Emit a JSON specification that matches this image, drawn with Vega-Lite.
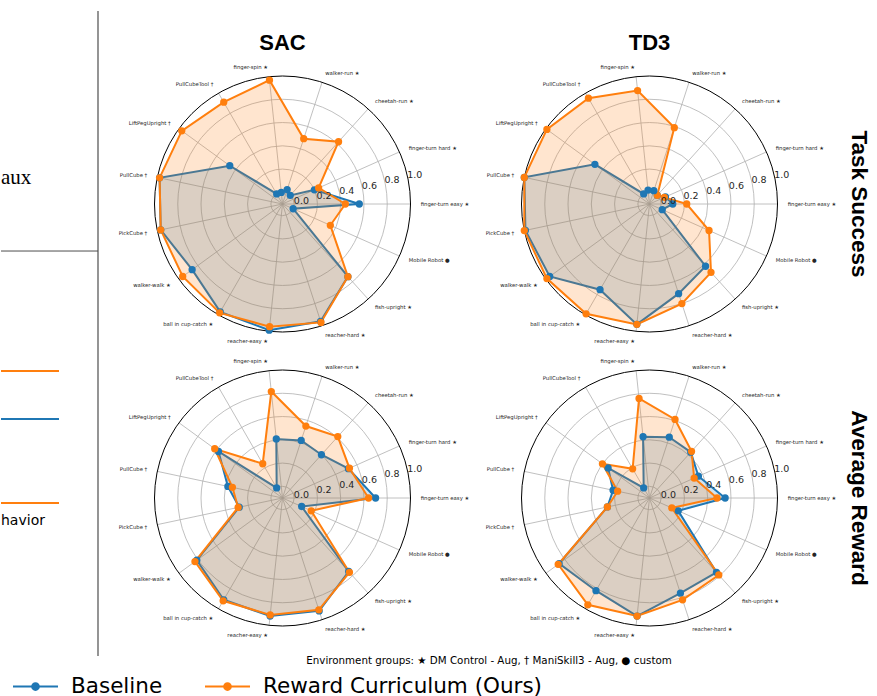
{
"$schema": "https://vega.github.io/schema/vega-lite/v6.json",
"padding": {"left": 0, "top": 10, "right": 0, "bottom": 0},
"background": "white",
"config": {"view": {"stroke": null}, "concat": {"spacing": 0}},
"datasets": {
"rings": [{"v": 0}, {"v": 0.2}, {"v": 0.4}, {"v": 0.6}, {"v": 0.8}, {"v": 1.0}],
"envs": [
{"k": 0, "label": "finger-turn easy ★"}, {"k": 1, "label": "finger-turn hard ★"}, {"k": 2, "label": "cheetah-run ★"},
{"k": 3, "label": "walker-run ★"}, {"k": 4, "label": "finger-spin ★"}, {"k": 5, "label": "PullCubeTool †"},
{"k": 6, "label": "LiftPegUpright †"}, {"k": 7, "label": "PullCube †"}, {"k": 8, "label": "PickCube †"},
{"k": 9, "label": "walker-walk ★"}, {"k": 10, "label": "ball in cup-catch ★"}, {"k": 11, "label": "reacher-easy ★"},
{"k": 12, "label": "reacher-hard ★"}, {"k": 13, "label": "fish-upright ★"}, {"k": 14, "label": "Mobile Robot ●"}
],
"scores": [
{"algo": "SAC", "metric": "Task Success", "k": 0, "Baseline": 0.56, "Reward Curriculum (Ours)": 0.44},
{"algo": "SAC", "metric": "Task Success", "k": 1, "Baseline": 0.20, "Reward Curriculum (Ours)": 0.24},
{"algo": "SAC", "metric": "Task Success", "k": 2, "Baseline": 0.00, "Reward Curriculum (Ours)": 0.62},
{"algo": "SAC", "metric": "Task Success", "k": 3, "Baseline": 0.03, "Reward Curriculum (Ours)": 0.49},
{"algo": "SAC", "metric": "Task Success", "k": 4, "Baseline": 0.00, "Reward Curriculum (Ours)": 0.97},
{"algo": "SAC", "metric": "Task Success", "k": 5, "Baseline": 0.00, "Reward Curriculum (Ours)": 0.91},
{"algo": "SAC", "metric": "Task Success", "k": 6, "Baseline": 0.46, "Reward Curriculum (Ours)": 0.97},
{"algo": "SAC", "metric": "Task Success", "k": 7, "Baseline": 0.98, "Reward Curriculum (Ours)": 0.98},
{"algo": "SAC", "metric": "Task Success", "k": 8, "Baseline": 0.97, "Reward Curriculum (Ours)": 0.97},
{"algo": "SAC", "metric": "Task Success", "k": 9, "Baseline": 0.86, "Reward Curriculum (Ours)": 0.96},
{"algo": "SAC", "metric": "Task Success", "k": 10, "Baseline": 0.97, "Reward Curriculum (Ours)": 0.98},
{"algo": "SAC", "metric": "Task Success", "k": 11, "Baseline": 0.99, "Reward Curriculum (Ours)": 0.96},
{"algo": "SAC", "metric": "Task Success", "k": 12, "Baseline": 0.96, "Reward Curriculum (Ours)": 0.97},
{"algo": "SAC", "metric": "Task Success", "k": 13, "Baseline": 0.74, "Reward Curriculum (Ours)": 0.74},
{"algo": "SAC", "metric": "Task Success", "k": 14, "Baseline": 0.00, "Reward Curriculum (Ours)": 0.35},
{"algo": "TD3", "metric": "Task Success", "k": 0, "Baseline": 0.10, "Reward Curriculum (Ours)": 0.22},
{"algo": "TD3", "metric": "Task Success", "k": 1, "Baseline": 0.05, "Reward Curriculum (Ours)": 0.04},
{"algo": "TD3", "metric": "Task Success", "k": 2, "Baseline": 0.00, "Reward Curriculum (Ours)": 0.00},
{"algo": "TD3", "metric": "Task Success", "k": 3, "Baseline": 0.02, "Reward Curriculum (Ours)": 0.59},
{"algo": "TD3", "metric": "Task Success", "k": 4, "Baseline": 0.02, "Reward Curriculum (Ours)": 0.88},
{"algo": "TD3", "metric": "Task Success", "k": 5, "Baseline": 0.00, "Reward Curriculum (Ours)": 0.95},
{"algo": "TD3", "metric": "Task Success", "k": 6, "Baseline": 0.48, "Reward Curriculum (Ours)": 0.99},
{"algo": "TD3", "metric": "Task Success", "k": 7, "Baseline": 1.00, "Reward Curriculum (Ours)": 1.00},
{"algo": "TD3", "metric": "Task Success", "k": 8, "Baseline": 0.99, "Reward Curriculum (Ours)": 1.00},
{"algo": "TD3", "metric": "Task Success", "k": 9, "Baseline": 0.96, "Reward Curriculum (Ours)": 0.99},
{"algo": "TD3", "metric": "Task Success", "k": 10, "Baseline": 0.75, "Reward Curriculum (Ours)": 0.99},
{"algo": "TD3", "metric": "Task Success", "k": 11, "Baseline": 0.94, "Reward Curriculum (Ours)": 0.94},
{"algo": "TD3", "metric": "Task Success", "k": 12, "Baseline": 0.71, "Reward Curriculum (Ours)": 0.80},
{"algo": "TD3", "metric": "Task Success", "k": 13, "Baseline": 0.62, "Reward Curriculum (Ours)": 0.69},
{"algo": "TD3", "metric": "Task Success", "k": 14, "Baseline": 0.02, "Reward Curriculum (Ours)": 0.46},
{"algo": "SAC", "metric": "Average Reward", "k": 0, "Baseline": 0.70, "Reward Curriculum (Ours)": 0.64},
{"algo": "SAC", "metric": "Average Reward", "k": 1, "Baseline": 0.52, "Reward Curriculum (Ours)": 0.53},
{"algo": "SAC", "metric": "Average Reward", "k": 2, "Baseline": 0.40, "Reward Curriculum (Ours)": 0.61},
{"algo": "SAC", "metric": "Average Reward", "k": 3, "Baseline": 0.42, "Reward Curriculum (Ours)": 0.55},
{"algo": "SAC", "metric": "Average Reward", "k": 4, "Baseline": 0.41, "Reward Curriculum (Ours)": 0.82},
{"algo": "SAC", "metric": "Average Reward", "k": 5, "Baseline": 0.00, "Reward Curriculum (Ours)": 0.24},
{"algo": "SAC", "metric": "Average Reward", "k": 6, "Baseline": 0.58, "Reward Curriculum (Ours)": 0.62},
{"algo": "SAC", "metric": "Average Reward", "k": 7, "Baseline": 0.38, "Reward Curriculum (Ours)": 0.34},
{"algo": "SAC", "metric": "Average Reward", "k": 8, "Baseline": 0.28, "Reward Curriculum (Ours)": 0.29},
{"algo": "SAC", "metric": "Average Reward", "k": 9, "Baseline": 0.81, "Reward Curriculum (Ours)": 0.83},
{"algo": "SAC", "metric": "Average Reward", "k": 10, "Baseline": 0.91, "Reward Curriculum (Ours)": 0.92},
{"algo": "SAC", "metric": "Average Reward", "k": 11, "Baseline": 0.92, "Reward Curriculum (Ours)": 0.91},
{"algo": "SAC", "metric": "Average Reward", "k": 12, "Baseline": 0.92, "Reward Curriculum (Ours)": 0.91},
{"algo": "SAC", "metric": "Average Reward", "k": 13, "Baseline": 0.75, "Reward Curriculum (Ours)": 0.76},
{"algo": "SAC", "metric": "Average Reward", "k": 14, "Baseline": 0.08, "Reward Curriculum (Ours)": 0.17},
{"algo": "TD3", "metric": "Average Reward", "k": 0, "Baseline": 0.55, "Reward Curriculum (Ours)": 0.48},
{"algo": "TD3", "metric": "Average Reward", "k": 1, "Baseline": 0.36, "Reward Curriculum (Ours)": 0.32},
{"algo": "TD3", "metric": "Average Reward", "k": 2, "Baseline": 0.43, "Reward Curriculum (Ours)": 0.44},
{"algo": "TD3", "metric": "Average Reward", "k": 3, "Baseline": 0.45, "Reward Curriculum (Ours)": 0.61},
{"algo": "TD3", "metric": "Average Reward", "k": 4, "Baseline": 0.43, "Reward Curriculum (Ours)": 0.76},
{"algo": "TD3", "metric": "Average Reward", "k": 5, "Baseline": 0.00, "Reward Curriculum (Ours)": 0.19},
{"algo": "TD3", "metric": "Average Reward", "k": 6, "Baseline": 0.34, "Reward Curriculum (Ours)": 0.40},
{"algo": "TD3", "metric": "Average Reward", "k": 7, "Baseline": 0.22, "Reward Curriculum (Ours)": 0.18},
{"algo": "TD3", "metric": "Average Reward", "k": 8, "Baseline": 0.27, "Reward Curriculum (Ours)": 0.27},
{"algo": "TD3", "metric": "Average Reward", "k": 9, "Baseline": 0.86, "Reward Curriculum (Ours)": 0.87},
{"algo": "TD3", "metric": "Average Reward", "k": 10, "Baseline": 0.82, "Reward Curriculum (Ours)": 0.96},
{"algo": "TD3", "metric": "Average Reward", "k": 11, "Baseline": 0.92, "Reward Curriculum (Ours)": 0.92},
{"algo": "TD3", "metric": "Average Reward", "k": 12, "Baseline": 0.76, "Reward Curriculum (Ours)": 0.82},
{"algo": "TD3", "metric": "Average Reward", "k": 13, "Baseline": 0.76, "Reward Curriculum (Ours)": 0.79},
{"algo": "TD3", "metric": "Average Reward", "k": 14, "Baseline": 0.17, "Reward Curriculum (Ours)": 0.11}
]
},
"resolve": {"scale": {"radius": "independent", "fill": "shared", "stroke": "shared"}, "legend": {"fill": "shared", "stroke": "shared"}},
"spacing": 0,
"hconcat": [
{
"width": 97, "height": 666,
"data": {"values": [{"x0": 0, "x1": 1}]},
"layer": [
{"mark": {"type": "rule", "color": "#4d4d4d", "strokeWidth": 1.2},
 "encoding": {"x": {"datum": 1, "type": "quantitative", "scale": {"domain": [0, 1], "nice": false, "zero": false}, "axis": null},
  "y": {"datum": 0, "type": "quantitative", "scale": {"domain": [0, 1], "reverse": true, "nice": false, "zero": false}, "axis": null},
  "y2": {"datum": 0.9685}}},
{"mark": {"type": "rule", "color": "#4d4d4d", "strokeWidth": 1},
 "encoding": {"x": {"datum": 0, "type": "quantitative", "axis": null}, "x2": {"datum": 1}, "y": {"datum": 0.3604, "type": "quantitative", "axis": null}}},
{"mark": {"type": "rule", "color": "#ff7f0e", "strokeWidth": 2},
 "encoding": {"x": {"datum": 0, "type": "quantitative", "axis": null}, "x2": {"datum": 0.598}, "y": {"datum": 0.5405, "type": "quantitative", "axis": null}}},
{"mark": {"type": "rule", "color": "#1f77b4", "strokeWidth": 2},
 "encoding": {"x": {"datum": 0, "type": "quantitative", "axis": null}, "x2": {"datum": 0.598}, "y": {"datum": 0.6126, "type": "quantitative", "axis": null}}},
{"mark": {"type": "rule", "color": "#ff7f0e", "strokeWidth": 2},
 "encoding": {"x": {"datum": 0, "type": "quantitative", "axis": null}, "x2": {"datum": 0.598}, "y": {"datum": 0.7387, "type": "quantitative", "axis": null}}},
{"mark": {"type": "text", "align": "left", "baseline": "middle", "font": "Liberation Serif", "fontSize": 21, "color": "#000"},
 "encoding": {"x": {"datum": 0, "type": "quantitative", "axis": null}, "y": {"datum": 0.2508, "type": "quantitative", "axis": null}, "text": {"value": "aux"}}},
{"mark": {"type": "text", "align": "left", "baseline": "middle", "font": "DejaVu Sans", "fontSize": 14, "color": "#000"},
 "encoding": {"x": {"datum": 0, "type": "quantitative", "axis": null}, "y": {"datum": 0.7658, "type": "quantitative", "axis": null}, "text": {"value": "havior"}}}
]
},
{
"spacing": 0,
"resolve": {"scale": {"radius": "independent", "fill": "shared", "stroke": "shared"}, "legend": {"fill": "shared", "stroke": "shared"}},
"vconcat": [
{"spacing": 0, "bounds": "flush",
 "hconcat": [
  {"width": 367, "height": 46, "data": {"values": [{"t": "SAC"}]},
   "mark": {"type": "text", "font": "Liberation Sans", "fontWeight": "bold", "fontSize": 22, "dy": 9, "color": "#000"},
   "encoding": {"text": {"field": "t", "type": "nominal"}}},
  {"width": 367, "height": 46, "data": {"values": [{"t": "TD3"}]},
   "mark": {"type": "text", "font": "Liberation Sans", "fontWeight": "bold", "fontSize": 22, "dy": 9, "color": "#000"},
   "encoding": {"text": {"field": "t", "type": "nominal"}}}
 ]},
{"spacing": 0, "bounds": "flush",
 "resolve": {"scale": {"radius": "independent", "fill": "shared", "stroke": "shared"}, "legend": {"fill": "shared", "stroke": "shared"}},
 "hconcat": [
 {"width": 367, "height": 294,
  "layer": [
   {"data": {"name": "rings"}, "transform": [{"filter": "datum.v < 1"}, {"calculate": "(datum.v + 0.1) / 1.1", "as": "u"}],
    "mark": {"type": "arc", "filled": false, "stroke": "#b0b0b0", "strokeWidth": 0.8, "theta": 0, "theta2": 6.2832},
    "encoding": {"radius": {"field": "u", "type": "quantitative", "stack": null, "scale": {"type": "linear", "domain": [0, 1], "range": [0, 128], "zero": true}}}},
   {"data": {"name": "envs"}, "transform": [{"calculate": "datum.k * 2 * PI / 15", "as": "a"}, {"calculate": "0", "as": "o"}, {"calculate": "cos(datum.a)", "as": "ex"}, {"calculate": "sin(datum.a)", "as": "ey"}],
    "mark": {"type": "rule", "stroke": "#b0b0b0", "strokeWidth": 0.8},
    "encoding": {"x": {"field": "o", "type": "quantitative", "scale": {"domain": [-1.4336, 1.4336], "nice": false, "zero": false}, "axis": null},
     "y": {"field": "o", "type": "quantitative", "scale": {"domain": [-1.1484, 1.1484], "nice": false, "zero": false}, "axis": null},
     "x2": {"field": "ex"}, "y2": {"field": "ey"}}},
   {"data": {"name": "rings"}, "transform": [{"filter": "datum.v == 1"}, {"calculate": "(datum.v + 0.1) / 1.1", "as": "u"}],
    "mark": {"type": "arc", "filled": false, "stroke": "#000", "strokeWidth": 1, "theta": 0, "theta2": 6.2832},
    "encoding": {"radius": {"field": "u", "type": "quantitative", "stack": null, "scale": {"type": "linear", "domain": [0, 1], "range": [0, 128], "zero": true}}}},
   {"data": {"name": "scores"}, "transform": [{"filter": "datum.algo == 'SAC' && datum.metric == 'Task Success'"}, {"fold": ["Baseline", "Reward Curriculum (Ours)"], "as": ["method", "value"]}, {"filter": "datum.method == 'Baseline'"}, {"calculate": "(datum.value + 0.1) / 1.1 * cos(datum.k * 2 * PI / 15)", "as": "px"}, {"calculate": "(datum.value + 0.1) / 1.1 * sin(datum.k * 2 * PI / 15)", "as": "py"}],
    "mark": {"type": "line", "interpolate": "linear-closed", "stroke": "#1f77b4", "fill": "#1f77b4", "fillOpacity": 0.2, "strokeWidth": 2},
    "encoding": {"x": {"field": "px", "type": "quantitative", "axis": null}, "y": {"field": "py", "type": "quantitative", "axis": null}, "order": {"field": "k", "type": "quantitative"}}},
   {"data": {"name": "scores"}, "transform": [{"filter": "datum.algo == 'SAC' && datum.metric == 'Task Success'"}, {"fold": ["Baseline", "Reward Curriculum (Ours)"], "as": ["method", "value"]}, {"filter": "datum.method != 'Baseline'"}, {"calculate": "(datum.value + 0.1) / 1.1 * cos(datum.k * 2 * PI / 15)", "as": "px"}, {"calculate": "(datum.value + 0.1) / 1.1 * sin(datum.k * 2 * PI / 15)", "as": "py"}],
    "mark": {"type": "line", "interpolate": "linear-closed", "stroke": "#ff7f0e", "fill": "#ff7f0e", "fillOpacity": 0.2, "strokeWidth": 2},
    "encoding": {"x": {"field": "px", "type": "quantitative", "axis": null}, "y": {"field": "py", "type": "quantitative", "axis": null}, "order": {"field": "k", "type": "quantitative"}}},
   {"data": {"name": "scores"}, "transform": [{"filter": "datum.algo == 'SAC' && datum.metric == 'Task Success'"}, {"fold": ["Baseline", "Reward Curriculum (Ours)"], "as": ["method", "value"]}, {"calculate": "(datum.value + 0.1) / 1.1 * cos(datum.k * 2 * PI / 15)", "as": "px"}, {"calculate": "(datum.value + 0.1) / 1.1 * sin(datum.k * 2 * PI / 15)", "as": "py"}],
    "mark": {"type": "point", "filled": true, "size": 28, "strokeWidth": 2, "opacity": 1},
    "encoding": {"x": {"field": "px", "type": "quantitative", "axis": null}, "y": {"field": "py", "type": "quantitative", "axis": null},
     "fill": {"field": "method", "type": "nominal", "scale": {"domain": ["Baseline", "Reward Curriculum (Ours)"], "range": ["#1f77b4", "#ff7f0e"]},
      "legend": {"orient": "none", "legendX": 11, "legendY": 652, "direction": "horizontal", "title": null, "symbolType": "M-1,0H1M0.15,0A0.15,0.15,0,1,1,-0.15,0A0.15,0.15,0,1,1,0.15,0Z", "symbolSize": 2025, "symbolStrokeWidth": 2, "labelFontSize": 21.5, "labelFont": "DejaVu Sans", "labelColor": "#000", "labelOffset": 12, "columnPadding": 38, "padding": 0, "labelLimit": 400}},
     "stroke": {"field": "method", "type": "nominal", "scale": {"domain": ["Baseline", "Reward Curriculum (Ours)"], "range": ["#1f77b4", "#ff7f0e"]},
      "legend": {"orient": "none", "legendX": 11, "legendY": 652, "direction": "horizontal", "title": null, "symbolType": "M-1,0H1M0.15,0A0.15,0.15,0,1,1,-0.15,0A0.15,0.15,0,1,1,0.15,0Z", "symbolSize": 2025, "symbolStrokeWidth": 2, "labelFontSize": 21.5, "labelFont": "DejaVu Sans", "labelColor": "#000", "labelOffset": 12, "columnPadding": 38, "padding": 0, "labelLimit": 400}}}},
   {"data": {"name": "rings"}, "transform": [{"calculate": "(datum.v + 0.1) / 1.1 * cos(13 * PI / 180)", "as": "lx"}, {"calculate": "(datum.v + 0.1) / 1.1 * sin(13 * PI / 180)", "as": "ly"}],
    "mark": {"type": "text", "align": "left", "baseline": "middle", "font": "DejaVu Sans", "fontSize": 9.5, "color": "#262626"},
    "encoding": {"x": {"field": "lx", "type": "quantitative", "axis": null}, "y": {"field": "ly", "type": "quantitative", "axis": null}, "text": {"field": "v", "type": "quantitative", "format": ".1f"}}},
   {"data": {"name": "envs"}, "transform": [{"calculate": "datum.k * 2 * PI / 15", "as": "a"}, {"filter": "cos(datum.a) > 0"}, {"calculate": "1.08 * cos(datum.a)", "as": "lx"}, {"calculate": "1.08 * sin(datum.a)", "as": "ly"}],
    "mark": {"type": "text", "align": "left", "baseline": "middle", "font": "DejaVu Sans", "fontSize": 5.3, "color": "#262626"},
    "encoding": {"x": {"field": "lx", "type": "quantitative", "axis": null}, "y": {"field": "ly", "type": "quantitative", "axis": null}, "text": {"field": "label", "type": "nominal"}}},
   {"data": {"name": "envs"}, "transform": [{"calculate": "datum.k * 2 * PI / 15", "as": "a"}, {"filter": "cos(datum.a) <= 0"}, {"calculate": "1.08 * cos(datum.a)", "as": "lx"}, {"calculate": "1.08 * sin(datum.a)", "as": "ly"}],
    "mark": {"type": "text", "align": "right", "baseline": "middle", "font": "DejaVu Sans", "fontSize": 5.3, "color": "#262626"},
    "encoding": {"x": {"field": "lx", "type": "quantitative", "axis": null}, "y": {"field": "ly", "type": "quantitative", "axis": null}, "text": {"field": "label", "type": "nominal"}}}
  ]},
 {"width": 367, "height": 294,
  "layer": [
   {"data": {"name": "rings"}, "transform": [{"filter": "datum.v < 1"}, {"calculate": "(datum.v + 0.1) / 1.1", "as": "u"}],
    "mark": {"type": "arc", "filled": false, "stroke": "#b0b0b0", "strokeWidth": 0.8, "theta": 0, "theta2": 6.2832},
    "encoding": {"radius": {"field": "u", "type": "quantitative", "stack": null, "scale": {"type": "linear", "domain": [0, 1], "range": [0, 128], "zero": true}}}},
   {"data": {"name": "envs"}, "transform": [{"calculate": "datum.k * 2 * PI / 15", "as": "a"}, {"calculate": "0", "as": "o"}, {"calculate": "cos(datum.a)", "as": "ex"}, {"calculate": "sin(datum.a)", "as": "ey"}],
    "mark": {"type": "rule", "stroke": "#b0b0b0", "strokeWidth": 0.8},
    "encoding": {"x": {"field": "o", "type": "quantitative", "scale": {"domain": [-1.4336, 1.4336], "nice": false, "zero": false}, "axis": null},
     "y": {"field": "o", "type": "quantitative", "scale": {"domain": [-1.1484, 1.1484], "nice": false, "zero": false}, "axis": null},
     "x2": {"field": "ex"}, "y2": {"field": "ey"}}},
   {"data": {"name": "rings"}, "transform": [{"filter": "datum.v == 1"}, {"calculate": "(datum.v + 0.1) / 1.1", "as": "u"}],
    "mark": {"type": "arc", "filled": false, "stroke": "#000", "strokeWidth": 1, "theta": 0, "theta2": 6.2832},
    "encoding": {"radius": {"field": "u", "type": "quantitative", "stack": null, "scale": {"type": "linear", "domain": [0, 1], "range": [0, 128], "zero": true}}}},
   {"data": {"name": "scores"}, "transform": [{"filter": "datum.algo == 'TD3' && datum.metric == 'Task Success'"}, {"fold": ["Baseline", "Reward Curriculum (Ours)"], "as": ["method", "value"]}, {"filter": "datum.method == 'Baseline'"}, {"calculate": "(datum.value + 0.1) / 1.1 * cos(datum.k * 2 * PI / 15)", "as": "px"}, {"calculate": "(datum.value + 0.1) / 1.1 * sin(datum.k * 2 * PI / 15)", "as": "py"}],
    "mark": {"type": "line", "interpolate": "linear-closed", "stroke": "#1f77b4", "fill": "#1f77b4", "fillOpacity": 0.2, "strokeWidth": 2},
    "encoding": {"x": {"field": "px", "type": "quantitative", "axis": null}, "y": {"field": "py", "type": "quantitative", "axis": null}, "order": {"field": "k", "type": "quantitative"}}},
   {"data": {"name": "scores"}, "transform": [{"filter": "datum.algo == 'TD3' && datum.metric == 'Task Success'"}, {"fold": ["Baseline", "Reward Curriculum (Ours)"], "as": ["method", "value"]}, {"filter": "datum.method != 'Baseline'"}, {"calculate": "(datum.value + 0.1) / 1.1 * cos(datum.k * 2 * PI / 15)", "as": "px"}, {"calculate": "(datum.value + 0.1) / 1.1 * sin(datum.k * 2 * PI / 15)", "as": "py"}],
    "mark": {"type": "line", "interpolate": "linear-closed", "stroke": "#ff7f0e", "fill": "#ff7f0e", "fillOpacity": 0.2, "strokeWidth": 2},
    "encoding": {"x": {"field": "px", "type": "quantitative", "axis": null}, "y": {"field": "py", "type": "quantitative", "axis": null}, "order": {"field": "k", "type": "quantitative"}}},
   {"data": {"name": "scores"}, "transform": [{"filter": "datum.algo == 'TD3' && datum.metric == 'Task Success'"}, {"fold": ["Baseline", "Reward Curriculum (Ours)"], "as": ["method", "value"]}, {"calculate": "(datum.value + 0.1) / 1.1 * cos(datum.k * 2 * PI / 15)", "as": "px"}, {"calculate": "(datum.value + 0.1) / 1.1 * sin(datum.k * 2 * PI / 15)", "as": "py"}],
    "mark": {"type": "point", "filled": true, "size": 28, "strokeWidth": 2, "opacity": 1},
    "encoding": {"x": {"field": "px", "type": "quantitative", "axis": null}, "y": {"field": "py", "type": "quantitative", "axis": null},
     "fill": {"field": "method", "type": "nominal", "scale": {"domain": ["Baseline", "Reward Curriculum (Ours)"], "range": ["#1f77b4", "#ff7f0e"]}},
     "stroke": {"field": "method", "type": "nominal", "scale": {"domain": ["Baseline", "Reward Curriculum (Ours)"], "range": ["#1f77b4", "#ff7f0e"]}}}},
   {"data": {"name": "rings"}, "transform": [{"calculate": "(datum.v + 0.1) / 1.1 * cos(13 * PI / 180)", "as": "lx"}, {"calculate": "(datum.v + 0.1) / 1.1 * sin(13 * PI / 180)", "as": "ly"}],
    "mark": {"type": "text", "align": "left", "baseline": "middle", "font": "DejaVu Sans", "fontSize": 9.5, "color": "#262626"},
    "encoding": {"x": {"field": "lx", "type": "quantitative", "axis": null}, "y": {"field": "ly", "type": "quantitative", "axis": null}, "text": {"field": "v", "type": "quantitative", "format": ".1f"}}},
   {"data": {"name": "envs"}, "transform": [{"calculate": "datum.k * 2 * PI / 15", "as": "a"}, {"filter": "cos(datum.a) > 0"}, {"calculate": "1.08 * cos(datum.a)", "as": "lx"}, {"calculate": "1.08 * sin(datum.a)", "as": "ly"}],
    "mark": {"type": "text", "align": "left", "baseline": "middle", "font": "DejaVu Sans", "fontSize": 5.3, "color": "#262626"},
    "encoding": {"x": {"field": "lx", "type": "quantitative", "axis": null}, "y": {"field": "ly", "type": "quantitative", "axis": null}, "text": {"field": "label", "type": "nominal"}}},
   {"data": {"name": "envs"}, "transform": [{"calculate": "datum.k * 2 * PI / 15", "as": "a"}, {"filter": "cos(datum.a) <= 0"}, {"calculate": "1.08 * cos(datum.a)", "as": "lx"}, {"calculate": "1.08 * sin(datum.a)", "as": "ly"}],
    "mark": {"type": "text", "align": "right", "baseline": "middle", "font": "DejaVu Sans", "fontSize": 5.3, "color": "#262626"},
    "encoding": {"x": {"field": "lx", "type": "quantitative", "axis": null}, "y": {"field": "ly", "type": "quantitative", "axis": null}, "text": {"field": "label", "type": "nominal"}}}
  ]},
 {"width": 46, "height": 294, "data": {"values": [{"t": "Task Success"}]},
  "mark": {"type": "text", "angle": 90, "font": "Liberation Sans", "fontWeight": "bold", "fontSize": 22.5, "dy": -3, "color": "#000"},
  "encoding": {"text": {"field": "t", "type": "nominal"}}}
 ]},
{"spacing": 0, "bounds": "flush",
 "resolve": {"scale": {"radius": "independent", "fill": "shared", "stroke": "shared"}, "legend": {"fill": "shared", "stroke": "shared"}},
 "hconcat": [
 {"width": 367, "height": 294,
  "layer": [
   {"data": {"name": "rings"}, "transform": [{"filter": "datum.v < 1"}, {"calculate": "(datum.v + 0.1) / 1.1", "as": "u"}],
    "mark": {"type": "arc", "filled": false, "stroke": "#b0b0b0", "strokeWidth": 0.8, "theta": 0, "theta2": 6.2832},
    "encoding": {"radius": {"field": "u", "type": "quantitative", "stack": null, "scale": {"type": "linear", "domain": [0, 1], "range": [0, 128], "zero": true}}}},
   {"data": {"name": "envs"}, "transform": [{"calculate": "datum.k * 2 * PI / 15", "as": "a"}, {"calculate": "0", "as": "o"}, {"calculate": "cos(datum.a)", "as": "ex"}, {"calculate": "sin(datum.a)", "as": "ey"}],
    "mark": {"type": "rule", "stroke": "#b0b0b0", "strokeWidth": 0.8},
    "encoding": {"x": {"field": "o", "type": "quantitative", "scale": {"domain": [-1.4336, 1.4336], "nice": false, "zero": false}, "axis": null},
     "y": {"field": "o", "type": "quantitative", "scale": {"domain": [-1.1484, 1.1484], "nice": false, "zero": false}, "axis": null},
     "x2": {"field": "ex"}, "y2": {"field": "ey"}}},
   {"data": {"name": "rings"}, "transform": [{"filter": "datum.v == 1"}, {"calculate": "(datum.v + 0.1) / 1.1", "as": "u"}],
    "mark": {"type": "arc", "filled": false, "stroke": "#000", "strokeWidth": 1, "theta": 0, "theta2": 6.2832},
    "encoding": {"radius": {"field": "u", "type": "quantitative", "stack": null, "scale": {"type": "linear", "domain": [0, 1], "range": [0, 128], "zero": true}}}},
   {"data": {"name": "scores"}, "transform": [{"filter": "datum.algo == 'SAC' && datum.metric == 'Average Reward'"}, {"fold": ["Baseline", "Reward Curriculum (Ours)"], "as": ["method", "value"]}, {"filter": "datum.method == 'Baseline'"}, {"calculate": "(datum.value + 0.1) / 1.1 * cos(datum.k * 2 * PI / 15)", "as": "px"}, {"calculate": "(datum.value + 0.1) / 1.1 * sin(datum.k * 2 * PI / 15)", "as": "py"}],
    "mark": {"type": "line", "interpolate": "linear-closed", "stroke": "#1f77b4", "fill": "#1f77b4", "fillOpacity": 0.2, "strokeWidth": 2},
    "encoding": {"x": {"field": "px", "type": "quantitative", "axis": null}, "y": {"field": "py", "type": "quantitative", "axis": null}, "order": {"field": "k", "type": "quantitative"}}},
   {"data": {"name": "scores"}, "transform": [{"filter": "datum.algo == 'SAC' && datum.metric == 'Average Reward'"}, {"fold": ["Baseline", "Reward Curriculum (Ours)"], "as": ["method", "value"]}, {"filter": "datum.method != 'Baseline'"}, {"calculate": "(datum.value + 0.1) / 1.1 * cos(datum.k * 2 * PI / 15)", "as": "px"}, {"calculate": "(datum.value + 0.1) / 1.1 * sin(datum.k * 2 * PI / 15)", "as": "py"}],
    "mark": {"type": "line", "interpolate": "linear-closed", "stroke": "#ff7f0e", "fill": "#ff7f0e", "fillOpacity": 0.2, "strokeWidth": 2},
    "encoding": {"x": {"field": "px", "type": "quantitative", "axis": null}, "y": {"field": "py", "type": "quantitative", "axis": null}, "order": {"field": "k", "type": "quantitative"}}},
   {"data": {"name": "scores"}, "transform": [{"filter": "datum.algo == 'SAC' && datum.metric == 'Average Reward'"}, {"fold": ["Baseline", "Reward Curriculum (Ours)"], "as": ["method", "value"]}, {"calculate": "(datum.value + 0.1) / 1.1 * cos(datum.k * 2 * PI / 15)", "as": "px"}, {"calculate": "(datum.value + 0.1) / 1.1 * sin(datum.k * 2 * PI / 15)", "as": "py"}],
    "mark": {"type": "point", "filled": true, "size": 28, "strokeWidth": 2, "opacity": 1},
    "encoding": {"x": {"field": "px", "type": "quantitative", "axis": null}, "y": {"field": "py", "type": "quantitative", "axis": null},
     "fill": {"field": "method", "type": "nominal", "scale": {"domain": ["Baseline", "Reward Curriculum (Ours)"], "range": ["#1f77b4", "#ff7f0e"]}},
     "stroke": {"field": "method", "type": "nominal", "scale": {"domain": ["Baseline", "Reward Curriculum (Ours)"], "range": ["#1f77b4", "#ff7f0e"]}}}},
   {"data": {"name": "rings"}, "transform": [{"calculate": "(datum.v + 0.1) / 1.1 * cos(13 * PI / 180)", "as": "lx"}, {"calculate": "(datum.v + 0.1) / 1.1 * sin(13 * PI / 180)", "as": "ly"}],
    "mark": {"type": "text", "align": "left", "baseline": "middle", "font": "DejaVu Sans", "fontSize": 9.5, "color": "#262626"},
    "encoding": {"x": {"field": "lx", "type": "quantitative", "axis": null}, "y": {"field": "ly", "type": "quantitative", "axis": null}, "text": {"field": "v", "type": "quantitative", "format": ".1f"}}},
   {"data": {"name": "envs"}, "transform": [{"calculate": "datum.k * 2 * PI / 15", "as": "a"}, {"filter": "cos(datum.a) > 0"}, {"calculate": "1.08 * cos(datum.a)", "as": "lx"}, {"calculate": "1.08 * sin(datum.a)", "as": "ly"}],
    "mark": {"type": "text", "align": "left", "baseline": "middle", "font": "DejaVu Sans", "fontSize": 5.3, "color": "#262626"},
    "encoding": {"x": {"field": "lx", "type": "quantitative", "axis": null}, "y": {"field": "ly", "type": "quantitative", "axis": null}, "text": {"field": "label", "type": "nominal"}}},
   {"data": {"name": "envs"}, "transform": [{"calculate": "datum.k * 2 * PI / 15", "as": "a"}, {"filter": "cos(datum.a) <= 0"}, {"calculate": "1.08 * cos(datum.a)", "as": "lx"}, {"calculate": "1.08 * sin(datum.a)", "as": "ly"}],
    "mark": {"type": "text", "align": "right", "baseline": "middle", "font": "DejaVu Sans", "fontSize": 5.3, "color": "#262626"},
    "encoding": {"x": {"field": "lx", "type": "quantitative", "axis": null}, "y": {"field": "ly", "type": "quantitative", "axis": null}, "text": {"field": "label", "type": "nominal"}}}
  ]},
 {"width": 367, "height": 294,
  "layer": [
   {"data": {"name": "rings"}, "transform": [{"filter": "datum.v < 1"}, {"calculate": "(datum.v + 0.1) / 1.1", "as": "u"}],
    "mark": {"type": "arc", "filled": false, "stroke": "#b0b0b0", "strokeWidth": 0.8, "theta": 0, "theta2": 6.2832},
    "encoding": {"radius": {"field": "u", "type": "quantitative", "stack": null, "scale": {"type": "linear", "domain": [0, 1], "range": [0, 128], "zero": true}}}},
   {"data": {"name": "envs"}, "transform": [{"calculate": "datum.k * 2 * PI / 15", "as": "a"}, {"calculate": "0", "as": "o"}, {"calculate": "cos(datum.a)", "as": "ex"}, {"calculate": "sin(datum.a)", "as": "ey"}],
    "mark": {"type": "rule", "stroke": "#b0b0b0", "strokeWidth": 0.8},
    "encoding": {"x": {"field": "o", "type": "quantitative", "scale": {"domain": [-1.4336, 1.4336], "nice": false, "zero": false}, "axis": null},
     "y": {"field": "o", "type": "quantitative", "scale": {"domain": [-1.1484, 1.1484], "nice": false, "zero": false}, "axis": null},
     "x2": {"field": "ex"}, "y2": {"field": "ey"}}},
   {"data": {"name": "rings"}, "transform": [{"filter": "datum.v == 1"}, {"calculate": "(datum.v + 0.1) / 1.1", "as": "u"}],
    "mark": {"type": "arc", "filled": false, "stroke": "#000", "strokeWidth": 1, "theta": 0, "theta2": 6.2832},
    "encoding": {"radius": {"field": "u", "type": "quantitative", "stack": null, "scale": {"type": "linear", "domain": [0, 1], "range": [0, 128], "zero": true}}}},
   {"data": {"name": "scores"}, "transform": [{"filter": "datum.algo == 'TD3' && datum.metric == 'Average Reward'"}, {"fold": ["Baseline", "Reward Curriculum (Ours)"], "as": ["method", "value"]}, {"filter": "datum.method == 'Baseline'"}, {"calculate": "(datum.value + 0.1) / 1.1 * cos(datum.k * 2 * PI / 15)", "as": "px"}, {"calculate": "(datum.value + 0.1) / 1.1 * sin(datum.k * 2 * PI / 15)", "as": "py"}],
    "mark": {"type": "line", "interpolate": "linear-closed", "stroke": "#1f77b4", "fill": "#1f77b4", "fillOpacity": 0.2, "strokeWidth": 2},
    "encoding": {"x": {"field": "px", "type": "quantitative", "axis": null}, "y": {"field": "py", "type": "quantitative", "axis": null}, "order": {"field": "k", "type": "quantitative"}}},
   {"data": {"name": "scores"}, "transform": [{"filter": "datum.algo == 'TD3' && datum.metric == 'Average Reward'"}, {"fold": ["Baseline", "Reward Curriculum (Ours)"], "as": ["method", "value"]}, {"filter": "datum.method != 'Baseline'"}, {"calculate": "(datum.value + 0.1) / 1.1 * cos(datum.k * 2 * PI / 15)", "as": "px"}, {"calculate": "(datum.value + 0.1) / 1.1 * sin(datum.k * 2 * PI / 15)", "as": "py"}],
    "mark": {"type": "line", "interpolate": "linear-closed", "stroke": "#ff7f0e", "fill": "#ff7f0e", "fillOpacity": 0.2, "strokeWidth": 2},
    "encoding": {"x": {"field": "px", "type": "quantitative", "axis": null}, "y": {"field": "py", "type": "quantitative", "axis": null}, "order": {"field": "k", "type": "quantitative"}}},
   {"data": {"name": "scores"}, "transform": [{"filter": "datum.algo == 'TD3' && datum.metric == 'Average Reward'"}, {"fold": ["Baseline", "Reward Curriculum (Ours)"], "as": ["method", "value"]}, {"calculate": "(datum.value + 0.1) / 1.1 * cos(datum.k * 2 * PI / 15)", "as": "px"}, {"calculate": "(datum.value + 0.1) / 1.1 * sin(datum.k * 2 * PI / 15)", "as": "py"}],
    "mark": {"type": "point", "filled": true, "size": 28, "strokeWidth": 2, "opacity": 1},
    "encoding": {"x": {"field": "px", "type": "quantitative", "axis": null}, "y": {"field": "py", "type": "quantitative", "axis": null},
     "fill": {"field": "method", "type": "nominal", "scale": {"domain": ["Baseline", "Reward Curriculum (Ours)"], "range": ["#1f77b4", "#ff7f0e"]}},
     "stroke": {"field": "method", "type": "nominal", "scale": {"domain": ["Baseline", "Reward Curriculum (Ours)"], "range": ["#1f77b4", "#ff7f0e"]}}}},
   {"data": {"name": "rings"}, "transform": [{"calculate": "(datum.v + 0.1) / 1.1 * cos(13 * PI / 180)", "as": "lx"}, {"calculate": "(datum.v + 0.1) / 1.1 * sin(13 * PI / 180)", "as": "ly"}],
    "mark": {"type": "text", "align": "left", "baseline": "middle", "font": "DejaVu Sans", "fontSize": 9.5, "color": "#262626"},
    "encoding": {"x": {"field": "lx", "type": "quantitative", "axis": null}, "y": {"field": "ly", "type": "quantitative", "axis": null}, "text": {"field": "v", "type": "quantitative", "format": ".1f"}}},
   {"data": {"name": "envs"}, "transform": [{"calculate": "datum.k * 2 * PI / 15", "as": "a"}, {"filter": "cos(datum.a) > 0"}, {"calculate": "1.08 * cos(datum.a)", "as": "lx"}, {"calculate": "1.08 * sin(datum.a)", "as": "ly"}],
    "mark": {"type": "text", "align": "left", "baseline": "middle", "font": "DejaVu Sans", "fontSize": 5.3, "color": "#262626"},
    "encoding": {"x": {"field": "lx", "type": "quantitative", "axis": null}, "y": {"field": "ly", "type": "quantitative", "axis": null}, "text": {"field": "label", "type": "nominal"}}},
   {"data": {"name": "envs"}, "transform": [{"calculate": "datum.k * 2 * PI / 15", "as": "a"}, {"filter": "cos(datum.a) <= 0"}, {"calculate": "1.08 * cos(datum.a)", "as": "lx"}, {"calculate": "1.08 * sin(datum.a)", "as": "ly"}],
    "mark": {"type": "text", "align": "right", "baseline": "middle", "font": "DejaVu Sans", "fontSize": 5.3, "color": "#262626"},
    "encoding": {"x": {"field": "lx", "type": "quantitative", "axis": null}, "y": {"field": "ly", "type": "quantitative", "axis": null}, "text": {"field": "label", "type": "nominal"}}}
  ]},
 {"width": 46, "height": 294, "data": {"values": [{"t": "Average Reward"}]},
  "mark": {"type": "text", "angle": 90, "font": "Liberation Sans", "fontWeight": "bold", "fontSize": 22.5, "dy": -3, "color": "#000"},
  "encoding": {"text": {"field": "t", "type": "nominal"}}}
 ]},
{"width": 780, "height": 32, "data": {"values": [{"t": "Environment groups: ★ DM Control - Aug, † ManiSkill3 - Aug, ● custom"}]},
 "mark": {"type": "text", "font": "DejaVu Sans", "fontSize": 10.3, "color": "#000"},
 "encoding": {"text": {"field": "t", "type": "nominal"}}}
]
}
]
}
